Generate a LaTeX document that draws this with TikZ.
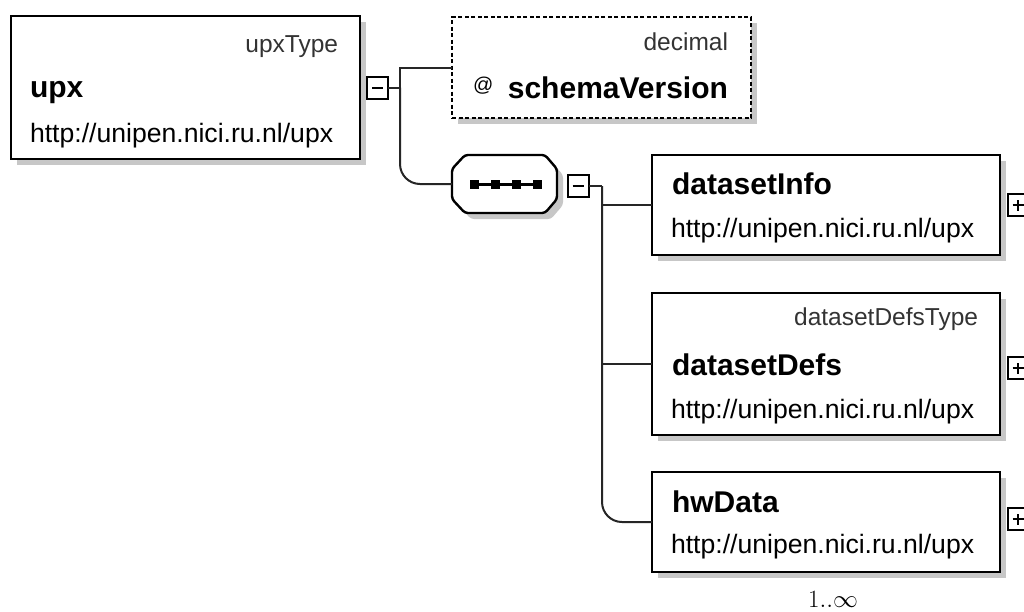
\documentclass[tikz,border=0pt]{standalone}
\usepackage{fontspec}
\setmainfont{Liberation Sans}
\usetikzlibrary{shadows}

\tikzset{
  shade box/.style={drop shadow={shadow xshift=6pt, shadow yshift=-6pt, fill=black!22, opacity=1}},
  elembox/.style={rectangle, draw=black, line width=2.8pt, fill=white, inner sep=0pt, outer sep=0pt, shade box},
  attrbox/.style={rectangle, draw=black, line width=2pt, dash pattern=on 4pt off 2.5pt, fill=white, inner sep=0pt, outer sep=0pt, shade box},
  seqframe/.style={rectangle, inner sep=0pt, outer sep=0pt},
  seqline/.style={draw=black, line width=2.4pt, fill=white, rounded corners=3pt},
  togglebox/.style={rectangle, draw=black, line width=2pt, fill=white, minimum width=21pt, minimum height=22pt, inner sep=0pt, outer sep=0pt},
  togglemark/.style={line width=2pt},
  conn/.style={draw=black!85, line width=2pt},
  lbl/.style={inner sep=0pt, outer sep=0pt, text=black},
  typetxt/.style={lbl, text=black!80, font=\fontsize{24.5}{26}\selectfont},
  nametxt/.style={lbl, font=\fontsize{30}{32}\selectfont\bfseries},
  nstxt/.style={lbl, font=\fontsize{26.6}{28}\selectfont},
}

\begin{document}
\begin{tikzpicture}[x=1pt, y=-1pt]
  \useasboundingbox (0,0) rectangle (1024,611);
  \clip (0,0) rectangle (1024,611);
  \fill[white] (0,0) rectangle (1024,611);

  % element and attribute boxes
  \node[elembox, minimum width=349pt, minimum height=143pt] (upx) at (185.5,87.5) {};
  \node[attrbox, minimum width=299pt, minimum height=101pt] (attr) at (601.5,67.5) {};
  \node[elembox, minimum width=348pt, minimum height=100pt] (info) at (826,205) {};
  \node[elembox, minimum width=348pt, minimum height=142pt] (defs) at (826,364) {};
  \node[elembox, minimum width=348pt, minimum height=100pt] (hw) at (826,522) {};

  % sequence compositor: octagonal frame with its shadow
  \node[seqframe, minimum width=105pt, minimum height=58pt] (seq) at (504.5,184) {};
  \fill[black!22, rounded corners=3pt]
    (465+6,155+6) -- (545+6,155+6) -- (557+6,169+6) -- (557+6,199+6)
    -- (545+6,213+6) -- (465+6,213+6) -- (452+6,199+6) -- (452+6,169+6) -- cycle;
  \path[seqline]
    (465,155) -- (545,155) -- (557,169) -- (557,199)
    -- (545,213) -- (465,213) -- (452,199) -- (452,169) -- cycle;
  \draw[line width=3pt] (471,184) -- (540,184);
  \foreach \xx in {474,495,516,537}
    \fill (\xx-4.5,179.5) rectangle (\xx+4.5,188.5);

  % expand / collapse toggles
  \node[togglebox] (upxM) at (377.5,87.5) {};
  \draw[togglemark] ([xshift=-5.5pt]upxM.center) -- ([xshift=5.5pt]upxM.center);
  \node[togglebox] (seqM) at (578,186) {};
  \draw[togglemark] ([xshift=-5.5pt]seqM.center) -- ([xshift=5.5pt]seqM.center);
  \foreach \n/\yy in {infoP/205, defsP/368, hwP/519} {
    \node[togglebox] (\n) at (1018,\yy) {};
    \draw[togglemark] ([xshift=-5.5pt]\n.center) -- ([xshift=5.5pt]\n.center);
    \draw[togglemark] ([yshift=-5.5pt]\n.center) -- ([yshift=5.5pt]\n.center);
  }

  % connectors
  \coordinate (j1) at (400,87.5);
  \coordinate (j2) at (602,186);
  \draw[conn] (upxM.east) -- (j1);
  \draw[conn] (attr.west) -| (j1);
  \draw[conn, rounded corners=20pt] (j1) |- (seq.west);
  \draw[conn] (seqM.east) -- (j2);
  \draw[conn] (j2) |- (info.west);
  \draw[conn] (j2) |- (defs.west);
  \draw[conn, rounded corners=20pt] (j2) |- (hw.west);

  % texts of the upx element
  \node[typetxt, anchor=base east] (upxT) at (338,52) {upxType};
  \node[nametxt, anchor=base west] (upxN) at (30,97) {upx};
  \node[nstxt, anchor=base west] (upxU) at (30,142) {http://unipen.nici.ru.nl/upx};

  % attribute
  \node[typetxt, anchor=base east] (attrT) at (728,50) {decimal};
  \node[lbl, anchor=base west, font=\fontsize{20}{22}\selectfont] (attrAt) at (473,91) {@};
  \node[nametxt, anchor=base east] (attrN) at (728,98) {schemaVersion};

  % child elements
  \node[nametxt, anchor=base west] (infoN) at (672,194) {datasetInfo};
  \node[nstxt, anchor=base west] (infoU) at (671,237) {http://unipen.nici.ru.nl/upx};

  \node[typetxt, anchor=base east] (defsT) at (978,325) {datasetDefsType};
  \node[nametxt, anchor=base west] (defsN) at (672,375) {datasetDefs};
  \node[nstxt, anchor=base west] (defsU) at (671,418) {http://unipen.nici.ru.nl/upx};

  \node[nametxt, anchor=base west] (hwN) at (672,512) {hwData};
  \node[nstxt, anchor=base west] (hwU) at (671,553) {http://unipen.nici.ru.nl/upx};

  % occurrence of hwData
  \node[lbl, anchor=base, font=\fontsize{31}{33}\selectfont] (mult) at (833,607) {$1..\infty$};
\end{tikzpicture}
\end{document}
